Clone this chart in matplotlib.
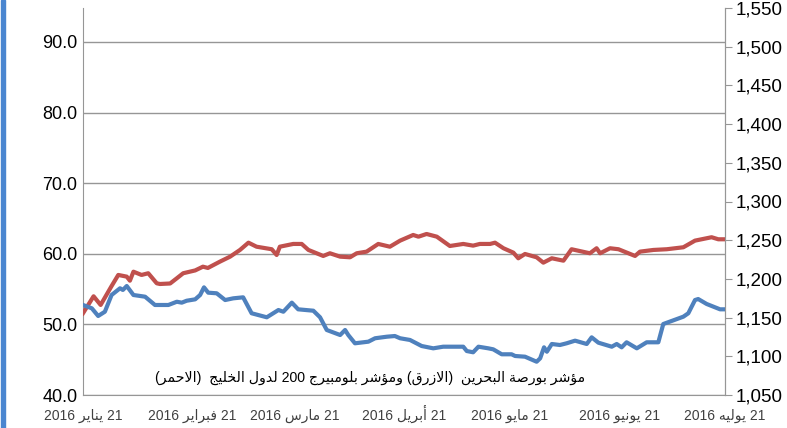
from matplotlib import pyplot as plt
from matplotlib.patches import Rectangle
import numpy as np
import pandas as pd

# Valeurs (jours depuis le 21 janvier 2016)
start = pd.Timestamp("2016-01-21")

red_days = [0, 3, 5, 8, 10, 12.4, 13.3, 14.3, 16.6, 18.5, 20.9, 21.8, 24.7, 26.6,
            28.4, 31.8, 34, 35.4, 38.8, 41.7, 44.5, 46.9, 49.2, 53.5, 54.9, 55.8,
            59.6, 62, 63.9, 68.1, 70, 72.9, 75.7, 77.6, 80.4, 83.7, 87, 89.9, 93.6,
            95.1, 97.4, 100.3, 104, 107.8, 110.6, 112.5, 115.4, 116.8, 119.2, 122,
            123.4, 125.3, 128.6, 130.5, 132.9, 136.2, 138.5, 143.7, 145.6, 146.6,
            149.4, 151.8, 156.5, 157.9, 161.7, 165.5, 170.2, 173.5, 178.2, 180.1, 182]
red_vals = [51.57, 53.98, 52.75, 55.34, 57.0, 56.76, 56.19, 57.46, 57.0, 57.24, 55.82,
            55.72, 55.79, 56.53, 57.24, 57.64, 58.17, 57.99, 58.88, 59.59, 60.54, 61.57,
            61.0, 60.64, 59.83, 61.0, 61.39, 61.39, 60.54, 59.69, 60.07, 59.59, 59.5,
            60.07, 60.3, 61.39, 61.0, 61.86, 62.66, 62.42, 62.8, 62.42, 61.1, 61.39,
            61.15, 61.39, 61.39, 61.57, 60.78, 60.16, 59.36, 59.97, 59.5, 58.74, 59.36,
            59.02, 60.64, 60.07, 60.78, 60.07, 60.78, 60.64, 59.69, 60.3, 60.54, 60.64,
            60.92, 61.86, 62.34, 62.05, 62.05]

blue_days = [0, 2.5, 4.3, 6.2, 8.1, 10.5, 11.3, 12.4, 14.3, 17.6, 20.4, 24.2, 26.6,
             28, 29.4, 31.8, 33.2, 34.3, 35.5, 37.9, 40.3, 42.6, 45.4, 47.8, 52.1,
             55.4, 56.8, 59.2, 61, 65.3, 67.2, 69.1, 72.9, 74.3, 75.2, 77.1, 80.9,
             82.8, 86.1, 88.4, 89.9, 92.7, 96, 99.3, 102.1, 107.8, 108.8, 110.6, 112.1,
             114.9, 116.3, 118.7, 121.5, 122.5, 125.3, 128.6, 129.6, 130.7, 131.5,
             132.9, 135.2, 137.1, 139.5, 142.8, 144.2, 146.1, 149.9, 151.3, 152.7,
             154.1, 157, 159.8, 163.1, 164.5, 170.2, 171.6, 173.5, 174.4, 176.8,
             180.6, 182]
blue_vals = [1166.3, 1162.0, 1152.1, 1157.6, 1179.2, 1187.9, 1185.7, 1190.8, 1179.2,
             1177.0, 1166.3, 1166.3, 1170.5, 1169.3, 1171.8, 1173.6, 1179.2, 1189.1,
             1182.2, 1181.4, 1172.7, 1174.9, 1176.2, 1155.6, 1150.4, 1159.8, 1157.6,
             1169.3, 1160.7, 1158.9, 1150.4, 1134.0, 1127.5, 1134.0, 1127.5, 1116.8,
             1118.9, 1123.3, 1125.3, 1126.2, 1123.3, 1121.1, 1113.3, 1110.3, 1112.4,
             1112.4, 1106.8, 1105.2, 1112.4, 1110.3, 1109.0, 1102.6, 1102.6, 1100.4,
             1099.5, 1093.0, 1097.4, 1111.6, 1105.9, 1115.9, 1114.6, 1116.8, 1120.2,
             1115.9, 1124.5, 1117.6, 1112.4, 1115.9, 1111.6, 1118.1, 1110.3, 1118.1,
             1118.1, 1141.7, 1151.2, 1155.6, 1172.7, 1174.0, 1167.6, 1160.7, 1160.7]

month_ticks = ["2016-01-21", "2016-02-21", "2016-03-21", "2016-04-21",
               "2016-05-21", "2016-06-21", "2016-07-21"]
month_names = ["يناير", "فبراير", "مارس", "أبريل", "مايو", "يونيو", "يوليه"]
caption = "مؤشر بورصة البحرين  (الازرق) ومؤشر بلومبيرج 200 لدول الخليج  (الاحمر)"

# Formes contextuelles arabes (isolée, finale, initiale, médiane)
FORMS = {
    "ا": ("\uFE8D", "\uFE8E", None, None),
    "أ": ("\uFE83", "\uFE84", None, None),
    "ؤ": ("\uFE85", "\uFE86", None, None),
    "ب": ("\uFE8F", "\uFE90", "\uFE91", "\uFE92"),
    "ة": ("\uFE93", "\uFE94", None, None),
    "ج": ("\uFE9D", "\uFE9E", "\uFE9F", "\uFEA0"),
    "ح": ("\uFEA1", "\uFEA2", "\uFEA3", "\uFEA4"),
    "خ": ("\uFEA5", "\uFEA6", "\uFEA7", "\uFEA8"),
    "د": ("\uFEA9", "\uFEAA", None, None),
    "ر": ("\uFEAD", "\uFEAE", None, None),
    "ز": ("\uFEAF", "\uFEB0", None, None),
    "س": ("\uFEB1", "\uFEB2", "\uFEB3", "\uFEB4"),
    "ش": ("\uFEB5", "\uFEB6", "\uFEB7", "\uFEB8"),
    "ص": ("\uFEB9", "\uFEBA", "\uFEBB", "\uFEBC"),
    "ف": ("\uFED1", "\uFED2", "\uFED3", "\uFED4"),
    "ق": ("\uFED5", "\uFED6", "\uFED7", "\uFED8"),
    "ل": ("\uFEDD", "\uFEDE", "\uFEDF", "\uFEE0"),
    "م": ("\uFEE1", "\uFEE2", "\uFEE3", "\uFEE4"),
    "ن": ("\uFEE5", "\uFEE6", "\uFEE7", "\uFEE8"),
    "ه": ("\uFEE9", "\uFEEA", "\uFEEB", "\uFEEC"),
    "و": ("\uFEED", "\uFEEE", None, None),
    "ي": ("\uFEF1", "\uFEF2", "\uFEF3", "\uFEF4"),
}
LAM_ALEF = {"ا": ("\uFEFB", "\uFEFC"), "أ": ("\uFEF7", "\uFEF8")}


def shape_word(w):
    out = []
    i = 0
    prev_joins = False
    while i < len(w):
        c = w[i]
        if c not in FORMS:
            out.append(c)
            prev_joins = False
            i += 1
            continue
        if c == "ل" and i + 1 < len(w) and w[i + 1] in LAM_ALEF:
            out.append(LAM_ALEF[w[i + 1]][1 if prev_joins else 0])
            prev_joins = False
            i += 2
            continue
        iso, fin, ini, med = FORMS[c]
        nxt = w[i + 1] if i + 1 < len(w) else None
        joins_next = ini is not None and nxt in FORMS
        if prev_joins and joins_next:
            g = med
        elif prev_joins:
            g = fin
        elif joins_next:
            g = ini
        else:
            g = iso
        out.append(g)
        prev_joins = ini is not None
        i += 1
    s = "".join(reversed(out))
    return s.translate(str.maketrans("()", ")("))


def rtl(text):
    # ordre visuel gauche->droite d'un texte arabe
    tokens = text.split(" ")
    vis = []
    for t in tokens:
        if any(ch in FORMS for ch in t):
            vis.append(shape_word(t))
        else:
            vis.append(t)
    return " ".join(reversed(vis))


FAM = ["Liberation Sans", "DejaVu Sans"]

fig = plt.figure(figsize=(7.87, 4.28), dpi=100)
ax = fig.add_axes([83 / 787, 1 - 395 / 428, (725 - 83) / 787, 387 / 428])
ax2 = ax.twinx()

red_x = start + pd.to_timedelta(red_days, unit="D")
blue_x = start + pd.to_timedelta(blue_days, unit="D")

ax.plot(red_x, red_vals, color="#C0504D", lw=3, solid_joinstyle="round", zorder=3)
ax2.plot(blue_x, blue_vals, color="#4F81BD", lw=3, solid_joinstyle="round", zorder=3)

ax.set_xlim(start, start + pd.Timedelta(days=182))
ax.set_ylim(40, 94.8)
ax2.set_ylim(1050, 1550)

ax.set_yticks(np.arange(40, 91, 10))
ax.set_yticklabels([f"{v:.1f}" for v in np.arange(40, 91, 10)], family=FAM, fontsize=13)
ax.tick_params(axis="y", length=0, pad=4)
ax.grid(axis="y", color="#969696", lw=1)

ax2.set_yticks(np.arange(1050, 1551, 50))
ax2.set_yticklabels([f"{v:,}" for v in range(1050, 1551, 50)], family=FAM, fontsize=13.5)
ax2.tick_params(axis="y", length=5, color="#969696", pad=3)

ticks = pd.to_datetime(month_ticks)
ax.set_xticks(ticks)
ax.set_xticklabels([rtl(f"21 {m} 2016") for m in month_names], family=FAM,
                   fontsize=10, color="#404040")
ax.tick_params(axis="x", length=0, pad=17.5)
for lab in ax.get_xticklabels():
    lab.set_verticalalignment("baseline")

for a in (ax, ax2):
    a.spines["top"].set_visible(False)
    for s in ("left", "right", "bottom"):
        a.spines[s].set_color("#969696")
ax2.spines["left"].set_visible(False)
ax2.spines["bottom"].set_visible(False)

ax.text(0.447, 0.045, rtl(caption), transform=ax.transAxes, ha="center", va="center",
        family=FAM, fontsize=10.2, color="black")

# Bande bleue à gauche
fig.patches.append(Rectangle((1 / 787, 0), 4 / 787, 1, transform=fig.transFigure,
                             color="#4A86D0", zorder=0))

fig.savefig("out.png", dpi=100)
